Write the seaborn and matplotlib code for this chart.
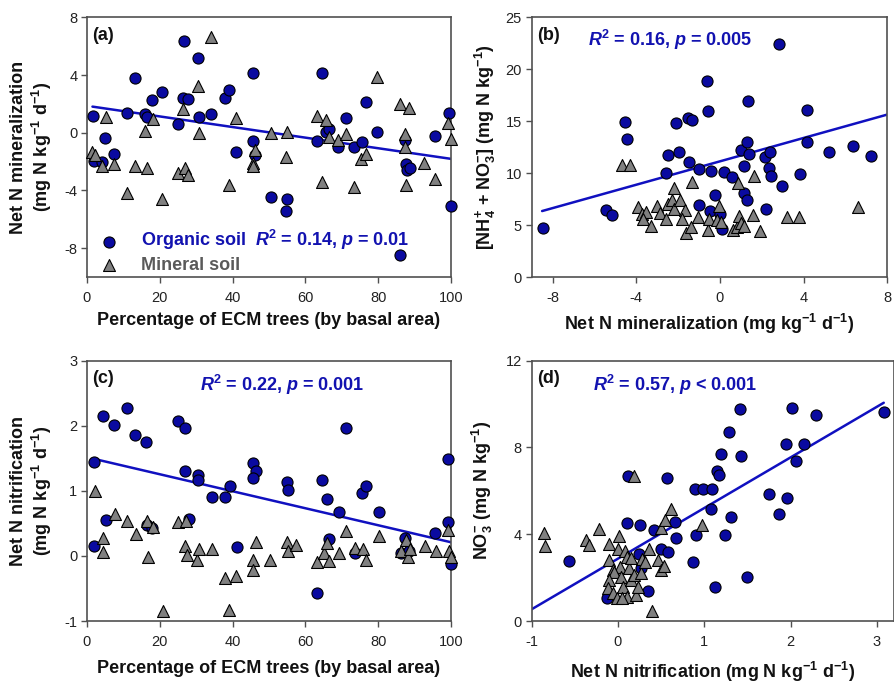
import matplotlib
matplotlib.use('Agg')
import matplotlib.pyplot as plt
import seaborn as sns

# ---------------- data ----------------
# (a) Net N mineralization vs % ECM trees
a_org_x = [1.6, 2.0, 4.2, 5.0, 7.5, 10.9, 13.2, 16.0, 16.6, 17.8, 20.5, 25.1, 26.6, 26.5, 27.7,
           30.4, 30.8, 34.0, 37.8, 38.9, 40.8, 45.5, 45.6, 46.2, 50.6, 54.9, 54.7, 63.2, 64.5, 65.7,
           66.6, 68.9, 71.2, 73.4, 75.6, 76.6, 79.8, 87.5, 87.6, 87.8, 88.8, 86.1, 95.7, 99.5, 100.0]
a_org_y = [1.17, -1.97, -2.02, -0.38, -1.47, 1.35, 3.82, 1.30, 1.10, 2.27, 2.80, 0.59, 6.38, 2.43, 2.34,
           5.21, 1.12, 1.30, 2.43, 2.97, -1.31, 4.14, -0.57, -1.54, -4.45, -4.56, -5.41, -0.54, 4.14, 0.08,
           0.24, -1.00, 1.05, -0.96, -0.61, 2.14, 0.03, -0.50, -2.16, -2.57, -2.46, -8.49, -0.20, 1.40, -5.11]
a_min_x = [1.4, 2.2, 4.2, 5.2, 7.5, 10.9, 13.2, 15.8, 16.4, 18.0, 20.5, 24.9, 26.5, 26.9, 27.7,
           30.4, 30.8, 34.0, 38.9, 40.9, 46.2, 45.5, 45.7, 50.5, 54.7, 54.9, 63.2, 64.5, 65.7, 66.4,
           68.9, 71.2, 73.4, 75.3, 76.6, 79.8, 85.9, 88.6, 87.4, 87.4, 87.6, 92.7, 95.7, 99.2, 100.0]
a_min_y = [-1.31, -1.54, -2.34, 1.12, -2.16, -4.15, -2.30, 0.15, -2.41, 0.96, -4.61, -2.76, 1.63, -2.46, -2.90,
           3.24, -0.04, 6.61, -3.61, 1.00, -1.19, -2.11, -2.34, 0.01, -1.70, 0.08, 1.17, -3.38, 0.89, -0.27,
           -0.50, -0.08, -3.79, -1.84, -1.49, 3.89, 2.00, 1.70, -0.08, -0.96, -3.61, -2.07, -3.20, 0.66, -0.45]
fit_a_x = [1.5, 100.0]
fit_a_y = [1.81, -1.81]

# (b) inorganic N vs net N mineralization
b_org_x = [-8.48, -5.44, -5.17, -4.55, -4.45, -2.50, -2.58, -1.95, -2.08, -1.50, -1.53, -1.33, -0.98, -0.98, -0.64,
           -0.59, -0.44, -0.48, -0.23, 0.00, 0.08, 0.19, 0.58, 1.02, 1.13, 1.13, 1.31, 1.33, 1.39, 1.31,
           2.14, 2.38, 2.33, 2.42, 2.22, 2.97, 2.81, 3.81, 4.17, 4.17, 5.19, 6.36, 7.23]
b_org_y = [4.68, 6.41, 5.93, 14.90, 13.24, 11.76, 9.97, 11.99, 14.81, 11.03, 15.32, 15.13, 10.35, 6.89, 18.91,
           15.96, 10.19, 6.35, 7.85, 6.09, 4.65, 10.10, 9.62, 12.18, 10.64, 8.08, 12.98, 16.92, 11.86, 7.37,
           11.54, 12.02, 10.51, 9.71, 6.51, 8.75, 22.44, 9.87, 16.12, 13.04, 12.08, 12.60, 11.63]
b_min_x = [-4.69, -4.30, -3.92, -3.72, -3.52, -3.67, -3.30, -3.02, -2.86, -2.58, -2.47, -2.31, -2.19, -2.19, -1.92,
           -1.69, -1.80, -1.64, -1.38, -1.33, -1.06, -0.59, -0.52, -0.13, -0.05, 0.03, 0.63, 0.81, 0.86, 0.89,
           1.02, 1.13, 1.59, 1.64, 1.91, 3.19, 3.80, 6.59]
b_min_y = [10.83, 10.74, 6.73, 6.03, 6.25, 5.61, 4.90, 6.83, 6.19, 5.61, 7.05, 7.37, 8.56, 6.57, 7.37,
           6.47, 5.61, 4.23, 4.81, 9.13, 5.77, 4.55, 5.61, 5.45, 6.79, 5.29, 4.55, 4.81, 9.04, 5.83,
           5.19, 4.87, 5.99, 9.71, 4.42, 5.77, 5.77, 6.73]
fit_b_x = [-8.5, 8.0]
fit_b_y = [6.35, 15.64]

# (c) Net N nitrification vs % ECM trees
c_org_x = [1.9, 2.0, 4.3, 5.2, 7.5, 10.9, 13.2, 16.1, 16.4, 17.8, 25.1, 26.9, 26.9, 27.9, 30.6,
           30.6, 34.3, 37.9, 39.3, 41.2, 45.7, 46.4, 45.5, 54.9, 55.2, 63.3, 64.7, 65.9, 66.4, 69.1,
           71.2, 73.5, 75.5, 76.6, 80.1, 86.3, 87.4, 88.5, 95.7, 99.2, 99.2, 100.0]
c_org_y = [0.16, 1.44, 2.15, 0.55, 2.01, 2.28, 1.86, 1.75, 0.48, 0.43, 2.07, 1.97, 1.31, 0.57, 1.25,
           1.16, 0.90, 0.90, 1.08, 0.14, 1.43, 1.30, 1.20, 1.14, 1.02, -0.57, 1.16, 0.87, 0.26, 0.67,
           1.96, 0.04, 0.97, 1.08, 0.67, 0.04, 0.28, 0.08, 0.35, 1.49, 0.52, -0.13]
c_min_x = [2.2, 4.5, 4.3, 7.7, 11.1, 13.5, 16.4, 16.7, 18.2, 20.8, 25.1, 27.2, 26.9, 27.6, 30.2,
           30.9, 34.3, 37.9, 41.0, 39.1, 46.5, 45.6, 45.7, 50.3, 54.9, 55.2, 57.5, 63.3, 65.0, 65.9,
           66.6, 69.1, 71.1, 73.7, 75.8, 76.7, 80.1, 86.3, 87.6, 88.1, 88.8, 92.9, 96.0, 99.2, 99.4, 100.0]
c_min_y = [0.99, 0.28, 0.06, 0.64, 0.54, 0.34, 0.53, -0.02, 0.45, -0.85, 0.52, 0.53, 0.15, 0.02, -0.07,
           0.10, 0.10, -0.34, -0.31, -0.83, 0.21, -0.07, -0.22, -0.06, 0.21, 0.07, 0.17, -0.09, 0.04, 0.20,
           -0.08, 0.04, 0.39, 0.12, 0.11, -0.07, 0.31, 0.07, 0.25, -0.01, 0.10, 0.15, 0.08, 0.40, 0.08, -0.02]
fit_c_x = [2.0, 100.0]
fit_c_y = [1.49, 0.21]

# (d) NO3- vs net N nitrification
d_org_x = [-0.57, 0.10, 0.12, 0.25, 0.24, 0.27, -0.13, 0.35, 0.42, 0.50, 0.58, 0.57, 0.66, 0.67, 0.87,
           0.89, 0.90, 0.98, 1.09, 1.08, 1.13, 1.15, 1.17, 1.20, 1.24, 1.31, 1.29, 1.42, 1.43, 1.49,
           1.75, 1.87, 1.96, 1.95, 2.02, 2.06, 2.16, 2.29, 3.08]
d_org_y = [2.77, 4.53, 6.70, 4.43, 3.07, 2.44, 1.04, 1.40, 4.19, 3.30, 3.17, 6.58, 4.58, 3.84, 2.74,
           6.08, 3.96, 6.08, 6.08, 5.15, 1.55, 6.91, 6.73, 7.70, 3.96, 4.81, 8.73, 9.77, 7.62, 2.01,
           5.85, 4.92, 5.65, 8.14, 9.80, 7.39, 8.14, 9.50, 9.65]
d_min_x = [-0.86, -0.85, -0.37, -0.33, -0.22, -0.10, 0.01, -0.10, 0.00, 0.08, 0.10, -0.06, 0.02, -0.04, -0.10,
           -0.12, -0.06, 0.04, 0.06, 0.10, 0.13, 0.15, 0.19, 0.21, 0.23, 0.27, 0.28, 0.31, 0.36, 0.40,
           0.15, -0.01, 0.19, 0.46, 0.50, 0.53, 0.50, 0.54, 0.62, 0.97, 0.05]
d_min_y = [4.06, 3.44, 3.75, 3.52, 4.26, 3.55, 3.92, 2.81, 3.32, 3.24, 2.97, 2.35, 2.50, 2.24, 1.89,
           1.51, 1.28, 2.04, 1.58, 1.12, 2.43, 1.89, 2.12, 1.20, 1.58, 2.20, 2.86, 2.70, 3.30, 0.48,
           2.89, 1.04, 6.68, 2.81, 2.35, 2.55, 4.27, 4.66, 5.15, 4.43, 1.05]
fit_d_x = [-1.0, 3.08]
fit_d_y = [0.54, 10.06]

stats_a = r'Organic soil  $\mathbfit{R}^{\mathbf{2}}$ = 0.14, $\mathbfit{p}$ = 0.01'
stats_b = r'$\mathbfit{R}^{\mathbf{2}}$ = 0.16, $\mathbfit{p}$ = 0.005'
stats_c = r'$\mathbfit{R}^{\mathbf{2}}$ = 0.22, $\mathbfit{p}$ = 0.001'
stats_d = r'$\mathbfit{R}^{\mathbf{2}}$ = 0.57, $\mathbfit{p}$ < 0.001'

# ---------------- style ----------------
sns.set_theme(style='ticks')
plt.rcParams['font.family'] = ['Liberation Sans', 'DejaVu Sans']
plt.rcParams['mathtext.fontset'] = 'custom'
plt.rcParams['mathtext.rm'] = 'Liberation Sans'
plt.rcParams['mathtext.it'] = 'Liberation Sans:italic'
plt.rcParams['mathtext.bf'] = 'Liberation Sans:bold'
try:
    plt.rcParams['mathtext.bfit'] = 'Liberation Sans:italic:bold'
except KeyError:
    pass
plt.rcParams['axes.unicode_minus'] = False

BLUE_M = '#0A0AA0'
BLUE_L = '#1010C0'
BLUE_T = '#1212B0'
GRAY_M = '#808080'
GRAY_T = '#5A5A5A'
SPINE = '#505050'
LABEL_FS = 13
TICK_FS = 10.5

fig = plt.figure(figsize=(8.95, 6.84), dpi=100)
ax_a = fig.add_axes([0.0972, 0.595, 0.4067, 0.3797])
ax_b = fig.add_axes([0.594, 0.595, 0.3975, 0.3797])
ax_c = fig.add_axes([0.0972, 0.0921, 0.4067, 0.3806])
ax_d = fig.add_axes([0.594, 0.0921, 0.405, 0.3806])


def panel(ax, ox, oy, mx, my, fx, fy):
    sns.lineplot(x=fx, y=fy, ax=ax, color=BLUE_L, lw=1.8, zorder=2, sort=False, estimator=None)
    sns.scatterplot(x=ox, y=oy, ax=ax, marker='o', s=64, color=BLUE_M, edgecolor='black',
                    linewidth=0.8, zorder=3, clip_on=False, label='org')
    sns.scatterplot(x=mx, y=my, ax=ax, marker='^', s=74, color=GRAY_M, edgecolor='black',
                    linewidth=0.8, zorder=4, clip_on=False, label='min')
    for s in ax.spines.values():
        s.set_visible(True)
        s.set_color(SPINE)
        s.set_linewidth(1.2)
    ax.tick_params(direction='out', length=4, width=1, color=SPINE, labelsize=TICK_FS,
                   labelcolor='#222222', top=False, right=False)
    ax.tick_params(axis='x', pad=6)
    ax.tick_params(axis='y', pad=3)
    ax.grid(False)
    if ax.get_legend() is not None:
        ax.get_legend().remove()


panel(ax_a, a_org_x, a_org_y, a_min_x, a_min_y, fit_a_x, fit_a_y)
panel(ax_b, b_org_x, b_org_y, b_min_x, b_min_y, fit_b_x, fit_b_y)
panel(ax_c, c_org_x, c_org_y, c_min_x, c_min_y, fit_c_x, fit_c_y)
panel(ax_d, d_org_x, d_org_y, d_min_x, d_min_y, fit_d_x, fit_d_y)

ax_a.set_xlim(0, 100); ax_a.set_ylim(-10, 8)
ax_a.set_xticks([0, 20, 40, 60, 80, 100]); ax_a.set_yticks([-8, -4, 0, 4, 8])
ax_b.set_xlim(-9, 8); ax_b.set_ylim(0, 25)
ax_b.set_xticks([-8, -4, 0, 4, 8]); ax_b.set_yticks([0, 5, 10, 15, 20, 25])
ax_c.set_xlim(0, 100); ax_c.set_ylim(-1, 3)
ax_c.set_xticks([0, 20, 40, 60, 80, 100]); ax_c.set_yticks([-1, 0, 1, 2, 3])
ax_d.set_xlim(-1, 3.2); ax_d.set_ylim(0, 12)
ax_d.set_xticks([-1, 0, 1, 2, 3]); ax_d.set_yticks([0, 4, 8, 12])

lab = dict(fontsize=LABEL_FS, fontweight='bold', color='#111111')
sup = r'$^{\mathbf{-1}}$'
ax_a.set_xlabel('Percentage of ECM trees (by basal area)', **lab)
ax_a.set_ylabel('Net N mineralization\n(mg N kg' + sup + ' d' + sup + ')', linespacing=1.2, **lab)
ax_b.set_xlabel('Net N mineralization (mg kg' + sup + ' d' + sup + ')', **lab)
ax_b.set_ylabel(r'[NH$_{\mathbf{4}}^{\mathbf{+}}$ + NO$_{\mathbf{3}}^{\mathbf{-}}$] (mg N kg' + sup + ')', **lab)
ax_c.set_xlabel('Percentage of ECM trees (by basal area)', **lab)
ax_c.set_ylabel('Net N nitrification\n(mg N kg' + sup + ' d' + sup + ')', linespacing=1.2, **lab)
ax_d.set_xlabel('Net N nitrification (mg N kg' + sup + ' d' + sup + ')', **lab)
ax_d.set_ylabel(r'NO$_{\mathbf{3}}^{\mathbf{-}}$ (mg N kg' + sup + ')', **lab)

ax_a.xaxis.set_label_coords(0.5, -0.135)
ax_b.xaxis.set_label_coords(0.5, -0.135)
ax_c.xaxis.set_label_coords(0.5, -0.148)
ax_d.xaxis.set_label_coords(0.5, -0.148)
ax_a.yaxis.set_label_coords(-0.09, 0.5)
ax_b.yaxis.set_label_coords(-0.095, 0.5)
ax_c.yaxis.set_label_coords(-0.09, 0.5)
ax_d.yaxis.set_label_coords(-0.10, 0.5)

for ax, t in [(ax_a, '(a)'), (ax_b, '(b)'), (ax_c, '(c)'), (ax_d, '(d)')]:
    ax.text(0.015, 0.93, t, transform=ax.transAxes, ha='left', va='center',
            fontsize=13, fontweight='bold', color='#111111')

stat_kw = dict(fontsize=LABEL_FS, fontweight='bold', color=BLUE_T, ha='left', va='center')
ax_b.text(0.158, 0.912, stats_b, transform=ax_b.transAxes, **stat_kw)
ax_c.text(0.31, 0.905, stats_c, transform=ax_c.transAxes, **stat_kw)
ax_d.text(0.168, 0.905, stats_d, transform=ax_d.transAxes, **stat_kw)

# legend in panel (a)
h_org = ax_a.collections[0]
h_min = ax_a.collections[1]
leg = ax_a.legend([h_org, h_min], [stats_a, 'Mineral soil'], loc='lower left',
                  bbox_to_anchor=(0.038, 0.012), frameon=False, borderaxespad=0, borderpad=0,
                  handlelength=0.9, handletextpad=1.3, labelspacing=0.25,
                  prop=dict(size=LABEL_FS, weight='bold'), scatterpoints=1)
leg.get_texts()[0].set_color(BLUE_T)
leg.get_texts()[1].set_color(GRAY_T)

fig.savefig('out.png', dpi=100, facecolor='white')
